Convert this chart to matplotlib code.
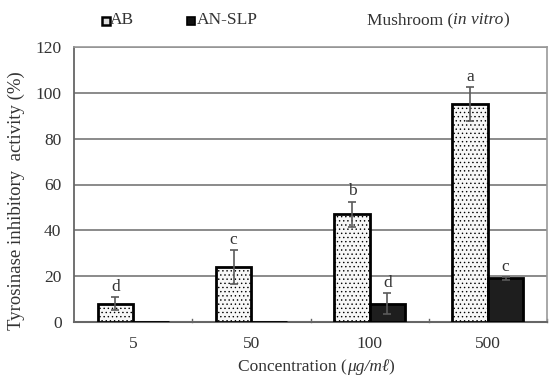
import matplotlib.pyplot as plt
import numpy as np
import matplotlib as mpl

mpl.rcParams['hatch.color'] = '#ababab'
mpl.rcParams['hatch.linewidth'] = 0.5

categories = ['5', '50', '100', '500']
ab_values = [8, 24, 47, 95]
ab_err = [2.8, 7.4, 5.5, 7.4]
ab_letters = ['d', 'c', 'b', 'a']
an_values = [0, 0, 8, 19]
an_err = [0, 0, 4.5, 0.6]
an_letters = ['', '', 'd', 'c']

serif = ['Liberation Serif', 'DejaVu Serif']
FS = 12.5
TC = '#333333'

fig = plt.figure(figsize=(5.56, 3.78), dpi=100)
ax = fig.add_axes([74/556, 1-322/378, (547-74)/556, (322-47)/378])

x = np.arange(len(categories))
w = 0.3
ax.bar(x - w/2, ab_values, w, color='#f7f7f7', edgecolor='black', linewidth=2.0,
       hatch='....', zorder=3)
ax.bar(x + w/2, an_values, w, color='#1e1e1e', edgecolor='black', linewidth=2.0, zorder=3)
ax.errorbar(x - w/2, ab_values, yerr=ab_err, fmt='none', ecolor='#5a5a5a', elinewidth=1.2,
            capsize=3, capthick=1.2, zorder=4)
ax.errorbar((x + w/2)[2:], an_values[2:], yerr=an_err[2:], fmt='none', ecolor='#5a5a5a',
            elinewidth=1.2, capsize=3, capthick=1.2, zorder=4)

for xi, v, e, t in zip(x - w/2, ab_values, ab_err, ab_letters):
    ax.text(xi, v + e + 1.0, t, ha='center', va='bottom', fontsize=FS, family=serif, color=TC)
for xi, v, e, t in zip(x + w/2, an_values, an_err, an_letters):
    if t:
        ax.text(xi, v + e + 1.0, t, ha='center', va='bottom', fontsize=FS, family=serif, color=TC)

ax.set_xlim(-0.5, 3.5)
ax.set_ylim(0, 120)
ax.set_yticks(range(0, 121, 20))
ax.set_yticklabels([str(v) for v in range(0, 121, 20)], family=serif, fontsize=FS, color=TC)
ax.set_xticks(x)
ax.set_xticklabels(categories, family=serif, fontsize=FS, color=TC)
ax.tick_params(axis='x', length=0, pad=10)
ax.tick_params(axis='y', length=0, pad=9)
for b in [0.5, 1.5, 2.5, 3.5]:
    ax.plot([b, b], [0, 1.2], color='#666666', lw=1, zorder=2, clip_on=False)

ax.yaxis.grid(True, color='#777777', lw=1.2, zorder=0)
for s in ['top', 'right']:
    ax.spines[s].set_color('#999999')
    ax.spines[s].set_linewidth(1.2)
ax.spines['left'].set_color('#666666')
ax.spines['left'].set_linewidth(1.3)
ax.spines['bottom'].set_color('#666666')
ax.spines['bottom'].set_linewidth(1.5)

ax.set_ylabel('Tyrosinase inhibitory  activity (%)', family=serif, fontsize=13.5, color=TC)
ax.yaxis.set_label_coords((25 - 74) / 473, (322 - 201) / 275)

renderer = fig.canvas.get_renderer()


def seq_text(x0_px, y_px, parts):
    """Place text pieces one after another starting at pixel x0."""
    xp = x0_px
    for s, st in parts:
        t = fig.text(xp/556, 1-y_px/378, s, family=serif, fontsize=FS, va='center', ha='left',
                     style=st, color=TC)
        bb = t.get_window_extent(renderer=renderer)
        xp += bb.width
    return xp


# x label
seq_text(238, 367, [('Concentration (', 'normal'), ('μg/mℓ', 'italic'), (')', 'normal')])

# legend
fig.patches.append(mpl.patches.Rectangle((102/556, 1-25/378), 8/556, 8/378, transform=fig.transFigure,
                                         facecolor='#dddddd', edgecolor='black', lw=1.8))
fig.text(110/556, 1-20/378, 'AB', family=serif, fontsize=FS, va='center', color=TC)
fig.patches.append(mpl.patches.Rectangle((187/556, 1-25/378), 8/556, 8/378, transform=fig.transFigure,
                                         facecolor='#111111', edgecolor='black', lw=1.2))
fig.text(197/556, 1-20/378, 'AN-SLP', family=serif, fontsize=FS, va='center', color=TC)
seq_text(367, 20, [('Mushroom (', 'normal'), ('in vitro', 'italic'), (')', 'normal')])

fig.savefig('out.png', dpi=100)
